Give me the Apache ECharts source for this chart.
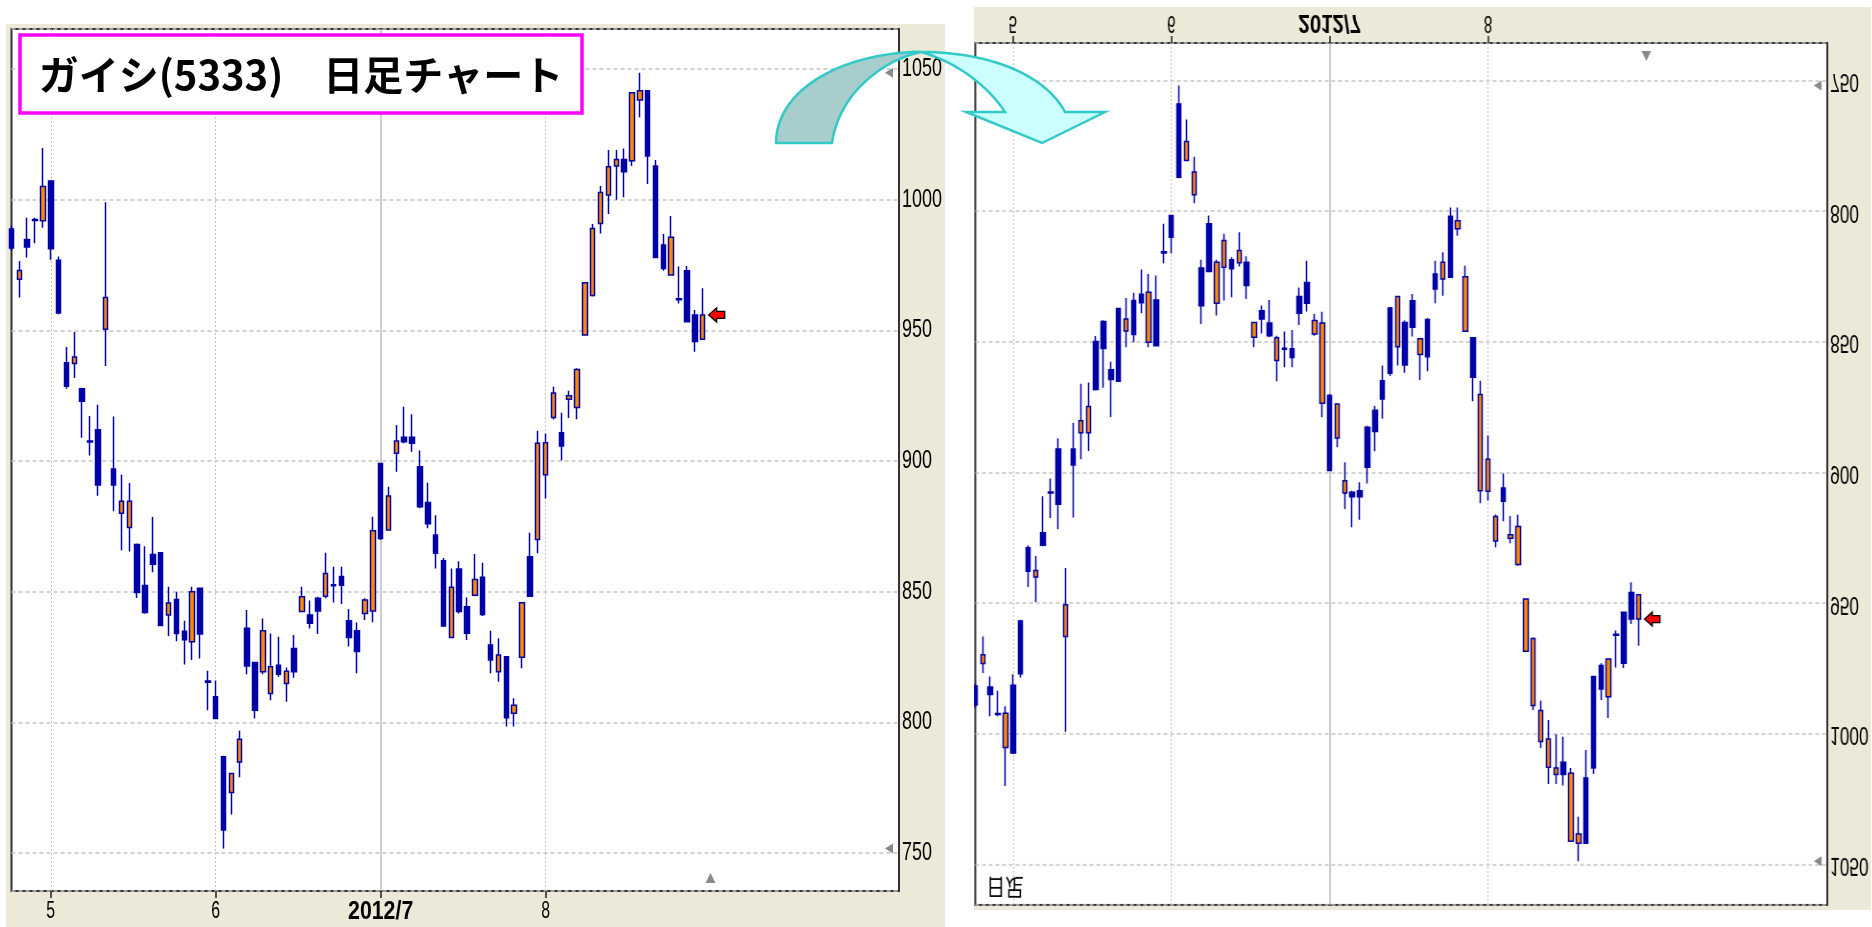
<!DOCTYPE html>
<html>
<head>
<meta charset="utf-8">
<script src="https://cdn.jsdelivr.net/npm/echarts@6/dist/echarts.min.js"></script>
<style>
  html, body { margin: 0; padding: 0; background: #fff; }
  body { width: 1872px; height: 927px; position: relative; overflow: hidden; }
  #left { position: absolute; left: 6px; top: 24px; width: 939px; height: 903px; }
  #rightWrap { position: absolute; left: 974px; top: 0; width: 898px; height: 927px; overflow: hidden; }
  #right { position: absolute; left: 0; top: 0; width: 939px; height: 903px; transform-origin: 0 0; transform: translate(-4px, 910px) scale(0.96, -1); }
  #overlay { position: absolute; left: 0; top: 0; width: 1872px; height: 927px; pointer-events: none; }
</style>
</head>
<body>
<div id="left"></div>
<div id="rightWrap"><div id="right"></div></div>
<div id="overlay"></div>
<script>
// 日足 (daily candles), 2012/4/23 - 2012/8/29
const dates = [
  '4/23', '4/24', '4/25', '4/26', '4/27',
  '5/1', '5/2', '5/7', '5/8', '5/9', '5/10', '5/11', '5/14', '5/15', '5/16', '5/17', '5/18',
  '5/21', '5/22', '5/23', '5/24', '5/25', '5/28', '5/29', '5/30', '5/31',
  '6/1', '6/4', '6/5', '6/6', '6/7', '6/8', '6/11', '6/12', '6/13', '6/14', '6/15',
  '6/18', '6/19', '6/20', '6/21', '6/22', '6/25', '6/26', '6/27', '6/28', '6/29',
  '7/2', '7/3', '7/4', '7/5', '7/6', '7/9', '7/10', '7/11', '7/12', '7/13',
  '7/17', '7/18', '7/19', '7/20', '7/23', '7/24', '7/25', '7/26', '7/27', '7/30', '7/31',
  '8/1', '8/2', '8/3', '8/6', '8/7', '8/8', '8/9', '8/10', '8/13', '8/14', '8/15', '8/16', '8/17',
  '8/20', '8/21', '8/22', '8/23', '8/24', '8/27', '8/28', '8/29'
]
const opens = [
  988.8, 969.6, 984.8, 992.4, 991.9,
  1007.1, 976.8, 937.6, 937.3, 927.7, 907.7, 912.0, 950.4, 897.0, 880.0, 874.6, 868.1,
  852.4, 864.2, 864.9, 841.1, 847.0, 834.9, 830.9, 851.3, 815.8,
  809.8, 786.9, 773.2, 784.9, 836.0, 822.9, 819.4, 811.1, 821.9, 814.9, 828.3,
  842.4, 841.1, 847.5, 848.3, 852.7, 855.8, 838.9, 835.1, 841.7, 842.6,
  899.1, 873.6, 903.0, 909.1, 909.1, 897.8, 884.1, 871.7, 861.9, 832.5,
  858.7, 844.3, 848.7, 855.5, 829.6, 819.4, 825.1, 803.5, 824.9, 863.4, 870.0,
  894.8, 916.7, 910.8, 923.6, 920.5, 948.2, 963.3, 990.9, 1001.8, 1012.9, 1015.4, 1014.9, 1038.1,
  1041.7, 1012.9, 982.7, 971.2, 962.1, 972.8, 955.9, 946.6
]
const closes = [
  981.5, 972.9, 981.9, 992.0, 1005.0,
  981.2, 956.6, 928.6, 939.8, 922.9, 907.3, 890.8, 962.6, 890.8, 884.6, 884.6, 849.7,
  842.1, 860.5, 837.1, 845.7, 834.0, 831.6, 850.0, 833.8, 815.4,
  801.5, 758.8, 780.5, 793.6, 821.6, 804.7, 835.1, 821.3, 818.4, 819.6, 819.4,
  848.1, 837.9, 842.6, 857.0, 852.3, 852.5, 832.5, 827.1, 846.8, 873.3,
  870.4, 886.6, 907.7, 907.4, 906.8, 882.5, 876.0, 864.7, 836.9, 851.7,
  842.4, 834.1, 854.7, 841.3, 823.9, 825.8, 801.8, 806.6, 845.8, 848.3, 906.8,
  907.0, 926.0, 905.8, 925.0, 935.0, 968.2, 989.0, 1002.7, 1012.6, 1015.4, 1010.7, 1040.9, 1041.7,
  1016.7, 977.9, 973.7, 985.6, 961.7, 953.3, 945.7, 955.9
]
const lows = [
  980.5, 962.6, 977.9, 983.3, 989.3,
  977.0, 956.2, 927.7, 931.8, 908.9, 902.1, 886.7, 936.4, 880.8, 865.9, 865.4, 847.6,
  841.6, 857.5, 836.8, 833.1, 831.1, 822.2, 823.9, 824.5, 804.7,
  801.3, 751.8, 764.8, 779.0, 818.4, 801.5, 818.4, 808.5, 817.5, 807.9, 817.1,
  842.2, 835.9, 833.8, 847.5, 845.9, 845.3, 829.0, 818.8, 839.2, 838.3,
  869.8, 873.4, 895.9, 906.8, 903.6, 881.9, 874.3, 858.9, 836.5, 832.3,
  841.7, 831.5, 848.3, 840.7, 818.8, 815.6, 798.4, 798.4, 820.7, 848.0, 864.7,
  885.7, 915.9, 900.2, 916.5, 916.0, 947.9, 963.0, 987.1, 994.5, 1000.0, 1000.9, 1012.9, 1031.5,
  1006.0, 977.6, 972.8, 971.0, 960.3, 953.0, 941.8, 946.4
]
const highs = [
  990.0, 976.5, 993.1, 993.1, 1019.8,
  1007.5, 978.3, 943.6, 949.4, 928.0, 917.2, 921.5, 999.0, 917.0, 894.8, 891.6, 868.5,
  867.4, 878.6, 865.2, 851.9, 850.0, 838.9, 851.9, 851.5, 819.8,
  816.0, 787.2, 780.7, 796.8, 843.0, 823.2, 839.8, 834.0, 832.8, 821.0, 833.4,
  851.9, 846.6, 848.1, 864.9, 859.6, 859.6, 843.4, 838.2, 847.5, 878.7,
  899.3, 890.2, 913.8, 920.8, 917.9, 904.0, 891.7, 879.3, 862.9, 858.9,
  861.7, 847.8, 864.4, 861.1, 835.1, 832.2, 825.3, 809.2, 846.0, 872.6, 911.6,
  910.5, 928.4, 918.5, 926.9, 935.5, 968.5, 990.7, 1005.2, 1019.0, 1019.0, 1019.6, 1041.2, 1048.6,
  1042.0, 1015.2, 986.9, 993.8, 974.4, 974.6, 957.8, 966.1
]

const tickDates = ['5/1', '6/1', '7/2', '8/1']
const tickLabels = ['5', '6', '2012/7', '8']
const yearTick = '7/2'
const yTicks = [750, 800, 850, 900, 950, 1000, 1050]

const Y_MIN = 735.5
const Y_MAX = 1065.3
const X_MAX = 113 // empty slots to the right of the last candle
const INK = '#0000a8'
const UP = '#ff8a00'
const PANEL = '#ece9d8'
const LABEL_FONT = '"Liberation Sans", Arial, sans-serif'

const isTick = (i) => tickDates.indexOf(dates[i]) >= 0
const candles = dates.map((_, i) => [opens[i], closes[i], lows[i], highs[i]])
const last = dates.length - 1

const buildOption = () => ({
  animation: false,
  backgroundColor: PANEL,
  grid: {
    left: 5.5,
    right: 46,
    top: 5,
    bottom: 36,
    outerBoundsMode: 'none',
    show: true,
    backgroundColor: '#fff',
    borderColor: '#333',
    borderWidth: 2
  },
  xAxis: [
    {
      type: 'category',
      data: dates,
      boundaryGap: false,
      max: X_MAX,
      axisLine: { show: false },
      axisTick: { show: true, length: 7, interval: (i) => isTick(i), lineStyle: { color: '#222', width: 1.5 } },
      axisLabel: { show: false },
      splitLine: {
        show: true,
        interval: (i) => isTick(i) && dates[i] !== yearTick,
        lineStyle: { color: '#c4c4c4', type: [2, 2], width: 1 }
      }
    },
    {
      type: 'category',
      data: dates,
      boundaryGap: false,
      max: X_MAX,
      axisLine: { show: false },
      axisTick: { show: false },
      axisLabel: { show: false },
      splitLine: {
        show: true,
        interval: (i) => dates[i] === yearTick,
        lineStyle: { color: '#bdbdbd', width: 1.5 }
      }
    }
  ],
  yAxis: {
    type: 'value',
    position: 'right',
    min: Y_MIN,
    max: Y_MAX,
    splitNumber: 6,
    axisLine: { show: false },
    axisTick: { show: false },
    axisLabel: { show: false },
    splitLine: { lineStyle: { color: '#c4c4c4', type: [4, 3], width: 1.5 } }
  },
  series: [
    {
      type: 'candlestick',
      data: candles,
      barWidth: 5,
      itemStyle: {
        color: UP,
        color0: INK,
        borderColor: INK,
        borderColor0: INK,
        borderWidth: 1.5
      },
      markPoint: {
        silent: true,
        symbol: 'path://M0,6 L7,0 L7,3 L14,3 L14,9 L7,9 L7,12 Z',
        symbolSize: [16, 14],
        symbolOffset: [14, 0],
        itemStyle: { color: '#ff0000', borderColor: '#000', borderWidth: 1.3 },
        label: { show: false },
        data: [{ coord: [dates[last], closes[last]] }]
      }
    }
  ]
})

// axis texts are drawn as narrow graphic text to match the condensed screen font
const renderPanel = (el, withTitle) => {
  const chart = echarts.init(el)
  chart.setOption(buildOption())
  const px = (x, y) => chart.convertToPixel({ gridIndex: 0 }, [x, y])
  const [xRight] = px(X_MAX, Y_MIN)
  const [, yFloor] = px(0, Y_MIN)
  const graphic = []

  yTicks.forEach((v) => {
    graphic.push({
      type: 'text',
      x: xRight + 3,
      y: px(0, v)[1],
      scaleX: 0.72,
      style: { text: String(v), fontSize: 25, fontFamily: LABEL_FONT, fill: '#000', align: 'left', verticalAlign: 'middle' }
    })
  })
  tickDates.forEach((d, k) => {
    const bold = d === yearTick
    graphic.push({
      type: 'text',
      x: px(d, Y_MIN)[0],
      y: yFloor + 8,
      scaleX: bold ? 0.82 : 0.66,
      style: {
        text: tickLabels[k],
        fontSize: bold ? 26 : 24,
        fontWeight: bold ? 'bold' : 'normal',
        fontFamily: LABEL_FONT,
        fill: '#000',
        align: 'center',
        verticalAlign: 'top'
      }
    })
  })

  // period high / low markers and the next-day marker
  const tri = (pts) => ({ type: 'polygon', shape: { points: pts }, style: { fill: '#8a8a8a' }, z: 10 })
  const yHigh = px(0, Math.max(...highs))[1]
  const yLow = px(0, Math.min(...lows))[1]
  const xNext = px(last + 1, Y_MIN)[0]
  graphic.push(tri([[xRight - 14, yHigh], [xRight - 6, yHigh - 5], [xRight - 6, yHigh + 5]]))
  graphic.push(tri([[xRight - 14, yLow], [xRight - 6, yLow - 5], [xRight - 6, yLow + 5]]))
  graphic.push(tri([[xNext - 5, yFloor - 8], [xNext + 5, yFloor - 8], [xNext, yFloor - 18]]))

  graphic.push({
    type: 'text',
    x: 17,
    y: 11,
    scaleX: 0.85,
    style: { text: '日足', fontSize: 23, fontFamily: 'Noto Sans CJK JP', fill: '#000' },
    z: 10
  })
  if (withTitle) {
    graphic.push({
      type: 'rect',
      shape: { x: 14, y: 11, width: 562, height: 78 },
      style: { fill: '#fff', stroke: '#ff00ff', lineWidth: 3.5 },
      z: 20
    })
    graphic.push({
      type: 'text',
      x: 295,
      y: 51,
      style: {
        text: 'ガイシ(5333)　日足チャート',
        fontSize: 40,
        fontWeight: 'bold',
        fontFamily: 'Noto Sans CJK JP',
        fill: '#000',
        align: 'center',
        verticalAlign: 'middle'
      },
      z: 21
    })
  }
  chart.setOption({ graphic })
  return chart
}

renderPanel(document.getElementById('left'), true)
renderPanel(document.getElementById('right'), false)

// curved arrow between the two panels
const bezier = (p0, p1, p2, p3, n) => {
  const pts = []
  for (let k = 0; k <= n; k++) {
    const t = k / n
    const a = (1 - t) ** 3, b = 3 * (1 - t) ** 2 * t, c = 3 * (1 - t) * t * t, d = t ** 3
    pts.push([a * p0[0] + b * p1[0] + c * p2[0] + d * p3[0], a * p0[1] + b * p1[1] + c * p2[1] + d * p3[1]])
  }
  return pts
}
const backPts = bezier([921, 52], [992, 52], [1046, 76], [1065, 112], 30)
  .concat([[1105, 112], [1042, 143], [966, 112]])
  .concat(bezier([1005, 112], [990, 89], [960, 63], [921, 52], 30))
const frontPts = bezier([776, 143], [776, 88], [846, 52], [921, 52], 30)
  .concat(bezier([921, 52], [890, 58], [840, 88], [832, 143], 30))

const overlay = echarts.init(document.getElementById('overlay'))
overlay.setOption({
  animation: false,
  graphic: [
    { type: 'polygon', shape: { points: backPts }, style: { fill: '#ccffff', stroke: '#33c9c9', lineWidth: 2.5 } },
    { type: 'polygon', shape: { points: frontPts }, style: { fill: '#a7cdcc', stroke: '#33c9c9', lineWidth: 2.5 } }
  ]
})
</script>
</body>
</html>
